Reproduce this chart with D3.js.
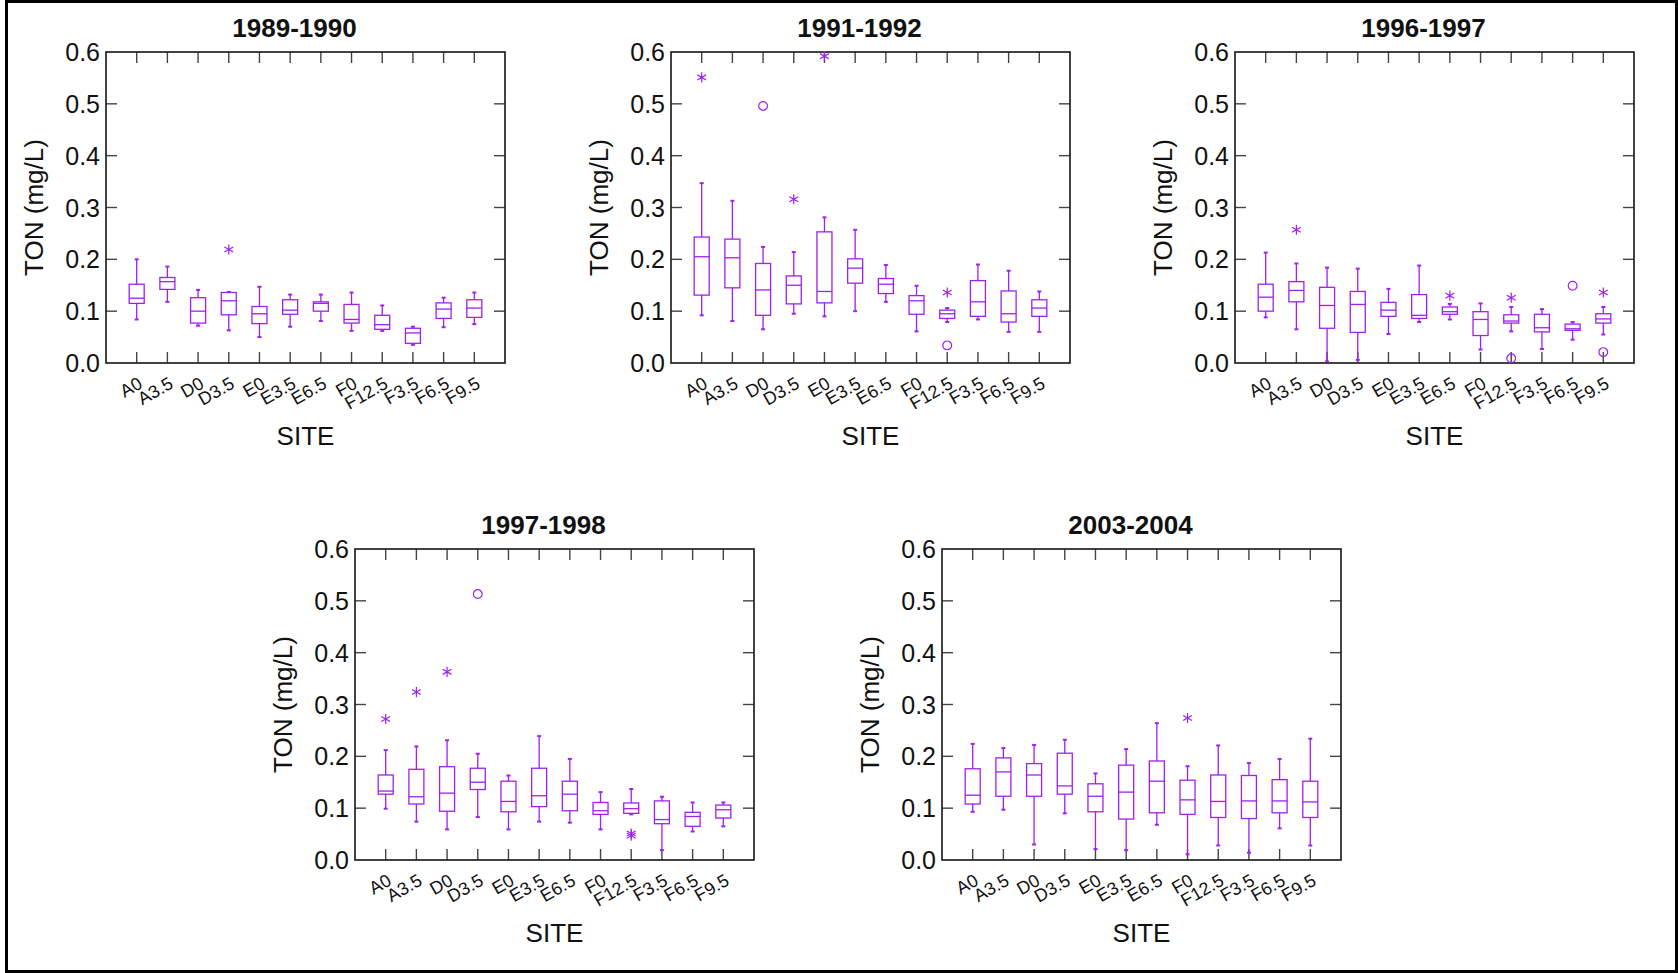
<!DOCTYPE html>
<html>
<head>
<meta charset="utf-8">
<script src="https://cdn.jsdelivr.net/npm/d3@7"></script>
<style>
  body { margin: 0; background: #fff; }
  text { font-family: 'Liberation Sans', Arial, sans-serif; fill: #111; }
</style>
</head>
<body>
<div id="chart"></div>
<script>
// sites along the x axis
const sites = ['A0', 'A3.5', 'D0', 'D3.5', 'E0', 'E3.5', 'E6.5', 'F0', 'F12.5', 'F3.5', 'F6.5', 'F9.5']
const yTicks = [0, 0.1, 0.2, 0.3, 0.4, 0.5, 0.6]
const titles = ['1989-1990', '1991-1992', '1996-1997', '1997-1998', '2003-2004']

// box stats per site: [low whisker, Q1, median, Q3, high whisker]
const box8990 = [
  [0.084, 0.115, 0.125, 0.152, 0.200],
  [0.118, 0.142, 0.157, 0.165, 0.186],
  [0.072, 0.077, 0.100, 0.126, 0.141],
  [0.063, 0.093, 0.120, 0.136, 0.137],
  [0.050, 0.076, 0.095, 0.109, 0.147],
  [0.070, 0.094, 0.102, 0.122, 0.132],
  [0.081, 0.100, 0.115, 0.118, 0.132],
  [0.062, 0.077, 0.084, 0.113, 0.136],
  [0.062, 0.065, 0.074, 0.092, 0.111],
  [0.035, 0.038, 0.058, 0.067, 0.070],
  [0.069, 0.086, 0.104, 0.116, 0.126],
  [0.075, 0.088, 0.106, 0.122, 0.136]
]
const box9192 = [
  [0.092, 0.131, 0.205, 0.243, 0.347],
  [0.081, 0.145, 0.203, 0.239, 0.313],
  [0.065, 0.092, 0.141, 0.192, 0.224],
  [0.095, 0.114, 0.150, 0.168, 0.214],
  [0.090, 0.116, 0.138, 0.253, 0.281],
  [0.100, 0.154, 0.183, 0.201, 0.257],
  [0.118, 0.134, 0.152, 0.163, 0.189],
  [0.061, 0.094, 0.120, 0.130, 0.149],
  [0.079, 0.086, 0.095, 0.102, 0.106],
  [0.084, 0.090, 0.118, 0.159, 0.190],
  [0.060, 0.079, 0.095, 0.139, 0.178],
  [0.060, 0.090, 0.106, 0.122, 0.138]
]
const box9697 = [
  [0.088, 0.100, 0.127, 0.152, 0.213],
  [0.065, 0.118, 0.140, 0.157, 0.192],
  [0.003, 0.067, 0.111, 0.146, 0.184],
  [0.006, 0.059, 0.113, 0.138, 0.182],
  [0.056, 0.090, 0.102, 0.117, 0.143],
  [0.079, 0.086, 0.092, 0.132, 0.188],
  [0.084, 0.094, 0.099, 0.108, 0.114],
  [0.026, 0.053, 0.084, 0.099, 0.115],
  [0.061, 0.077, 0.081, 0.093, 0.108],
  [0.027, 0.060, 0.068, 0.094, 0.104],
  [0.045, 0.063, 0.066, 0.075, 0.079],
  [0.055, 0.077, 0.085, 0.095, 0.108]
]
const box9798 = [
  [0.099, 0.127, 0.133, 0.164, 0.212],
  [0.074, 0.108, 0.122, 0.175, 0.219],
  [0.059, 0.094, 0.129, 0.180, 0.231],
  [0.083, 0.136, 0.150, 0.177, 0.205],
  [0.059, 0.093, 0.113, 0.152, 0.163],
  [0.074, 0.103, 0.124, 0.177, 0.239],
  [0.072, 0.095, 0.127, 0.152, 0.195],
  [0.059, 0.088, 0.095, 0.111, 0.131],
  [0.088, 0.090, 0.099, 0.110, 0.137],
  [0.019, 0.070, 0.078, 0.114, 0.122],
  [0.055, 0.065, 0.084, 0.092, 0.111],
  [0.065, 0.081, 0.097, 0.106, 0.111]
]
const box0304 = [
  [0.093, 0.108, 0.125, 0.176, 0.224],
  [0.097, 0.123, 0.170, 0.197, 0.216],
  [0.030, 0.123, 0.164, 0.186, 0.222],
  [0.090, 0.127, 0.143, 0.206, 0.232],
  [0.021, 0.093, 0.123, 0.147, 0.167],
  [0.019, 0.079, 0.131, 0.183, 0.214],
  [0.068, 0.091, 0.152, 0.191, 0.264],
  [0.011, 0.088, 0.116, 0.154, 0.181],
  [0.028, 0.082, 0.113, 0.164, 0.221],
  [0.014, 0.080, 0.114, 0.163, 0.187],
  [0.061, 0.091, 0.114, 0.155, 0.195],
  [0.028, 0.082, 0.112, 0.152, 0.234]
]

// outliers: [site, value, kind] kind '*' = far, 'o' = near
const out8990 = [['D3.5', 0.219, '*']]
const out9192 = [['A0', 0.551, '*'], ['D0', 0.496, 'o'], ['D3.5', 0.316, '*'], ['E0', 0.592, '*'],
  ['F12.5', 0.136, '*'], ['F12.5', 0.034, 'o']]
const out9697 = [['A3.5', 0.257, '*'], ['E6.5', 0.130, '*'], ['F12.5', 0.126, '*'], ['F12.5', 0.009, 'o'],
  ['F6.5', 0.149, 'o'], ['F9.5', 0.136, '*'], ['F9.5', 0.021, 'o']]
const out9798 = [['A0', 0.272, '*'], ['A3.5', 0.324, '*'], ['D0', 0.363, '*'], ['D3.5', 0.513, 'o'],
  ['F12.5', 0.051, '*'], ['F12.5', 0.047, '*']]
const out0304 = [['F0', 0.274, '*']]

const purple = '#a020f0'
const W = 1678
const H = 973
const pw = 399
const ph = 311

const panels = [
  { title: titles[0], boxes: box8990, outliers: out8990, left: 106, top: 52 },
  { title: titles[1], boxes: box9192, outliers: out9192, left: 671, top: 52 },
  { title: titles[2], boxes: box9697, outliers: out9697, left: 1235, top: 52 },
  { title: titles[3], boxes: box9798, outliers: out9798, left: 355, top: 549 },
  { title: titles[4], boxes: box0304, outliers: out0304, left: 942, top: 549 }
]

const svg = d3.select('#chart').append('svg')
  .attr('width', W)
  .attr('height', H)

// outer frame
svg.append('rect')
  .attr('x', 6.5).attr('y', 1.5)
  .attr('width', W - 8).attr('height', H - 3)
  .attr('fill', 'none')
  .attr('stroke', '#000')
  .attr('stroke-width', 3)

const x = d3.scalePoint().domain(sites).range([0, pw]).padding(1)
const y = d3.scaleLinear().domain([0, 0.6]).range([ph, 0])
const boxW = 15

panels.forEach(p => {
  const g = svg.append('g').attr('transform', `translate(${p.left},${p.top})`)

  // ticks, all pointing inward
  const tickLen = 11
  g.append('g').selectAll('line').data(yTicks.slice(1, -1)).join('line')
    .attr('x1', 0).attr('x2', tickLen)
    .attr('y1', d => y(d)).attr('y2', d => y(d))
    .attr('stroke', '#444').attr('stroke-width', 1.4)
  g.append('g').selectAll('line').data(yTicks.slice(1, -1)).join('line')
    .attr('x1', pw).attr('x2', pw - tickLen)
    .attr('y1', d => y(d)).attr('y2', d => y(d))
    .attr('stroke', '#444').attr('stroke-width', 1.4)
  g.append('g').selectAll('line').data(sites).join('line')
    .attr('x1', d => x(d)).attr('x2', d => x(d))
    .attr('y1', ph).attr('y2', ph - tickLen)
    .attr('stroke', '#444').attr('stroke-width', 1.4)
  g.append('g').selectAll('line').data(sites).join('line')
    .attr('x1', d => x(d)).attr('x2', d => x(d))
    .attr('y1', 0).attr('y2', tickLen)
    .attr('stroke', '#444').attr('stroke-width', 1.4)

  g.append('rect')
    .attr('width', pw).attr('height', ph)
    .attr('fill', 'none')
    .attr('stroke', '#222')
    .attr('stroke-width', 1.7)

  // y tick labels
  g.append('g').selectAll('text').data(yTicks).join('text')
    .attr('x', -6)
    .attr('y', d => y(d))
    .attr('dy', '0.36em')
    .attr('text-anchor', 'end')
    .style('font-size', '25px')
    .text(d => d3.format('.1f')(d))

  // x tick labels
  g.append('g').selectAll('text').data(sites).join('text')
    .attr('transform', d => `translate(${x(d) + 7},${ph + 24}) rotate(-30)`)
    .attr('text-anchor', 'end')
    .style('font-size', '18px')
    .text(d => d)

  // boxes
  const bx = g.append('g')
    .attr('stroke', purple)
    .attr('stroke-width', 1.3)
    .attr('fill', 'none')
  p.boxes.forEach((b, i) => {
    const cx = x(sites[i])
    const [lo, q1, med, q3, hi] = b
    bx.append('line').attr('x1', cx).attr('x2', cx).attr('y1', y(q3)).attr('y2', y(hi))
    bx.append('line').attr('x1', cx).attr('x2', cx).attr('y1', y(q1)).attr('y2', y(lo))
    bx.append('line').attr('x1', cx - 2).attr('x2', cx + 2).attr('y1', y(hi)).attr('y2', y(hi)).attr('stroke-width', 2)
    bx.append('line').attr('x1', cx - 2).attr('x2', cx + 2).attr('y1', y(lo)).attr('y2', y(lo)).attr('stroke-width', 2)
    bx.append('rect')
      .attr('x', cx - boxW / 2).attr('y', y(q3))
      .attr('width', boxW).attr('height', y(q1) - y(q3))
    bx.append('line').attr('x1', cx - boxW / 2).attr('x2', cx + boxW / 2).attr('y1', y(med)).attr('y2', y(med))
  })

  // outliers
  const star = d3.symbol(d3.symbolAsterisk, 72)
  const ring = d3.symbol(d3.symbolCircle, 60)
  g.append('g').selectAll('path').data(p.outliers).join('path')
    .attr('transform', d => `translate(${x(d[0])},${y(d[1])})`)
    .attr('d', d => d[2] === '*' ? star() : ring())
    .attr('fill', 'none')
    .attr('stroke', purple)
    .attr('stroke-width', 1.2)

  // titles
  g.append('text')
    .attr('x', pw / 2 - 11)
    .attr('y', -15)
    .attr('text-anchor', 'middle')
    .style('font-size', '26px')
    .style('font-weight', 'bold')
    .text(p.title)

  g.append('text')
    .attr('x', pw / 2)
    .attr('y', ph + 82)
    .attr('text-anchor', 'middle')
    .style('font-size', '26px')
    .text('SITE')

  g.append('text')
    .attr('transform', `translate(-63,${ph / 2}) rotate(-90)`)
    .attr('text-anchor', 'middle')
    .style('font-size', '26px')
    .text('TON (mg/L)')
})
</script>
</body>
</html>
